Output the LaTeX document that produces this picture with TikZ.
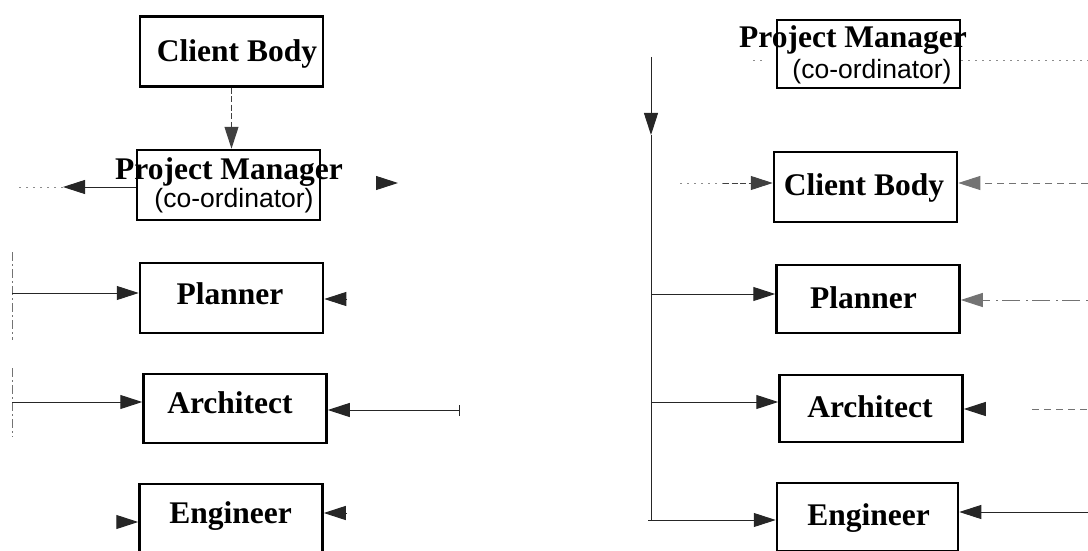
\documentclass[tikz,border=0pt]{standalone}
\usepackage{fontspec}
\setmainfont{Liberation Serif}
\newfontfamily\subfont{Liberation Sans}
\usetikzlibrary{arrows.meta}

\tikzset{
  box/.style={draw=black, line width=2.5pt, inner sep=0pt,
              minimum width=183pt, minimum height=70pt},
  title/.style={font=\fontsize{31.5}{36}\selectfont\bfseries, anchor=base, inner sep=0pt},
  subtitle/.style={font=\subfont\fontsize{26.5}{30}\selectfont, anchor=base, inner sep=0pt},
  tip/.tip={Triangle[length=22pt,width=14pt]},
  conn/.style={draw=black!85, line width=1pt},
  faint/.style={draw=black!55, line width=0.9pt, dash pattern=on 7pt off 5pt},
  dotline/.style={draw=black!45, line width=0.8pt, dash pattern=on 2pt off 5pt},
  dashline/.style={draw=black!75, line width=1pt, dash pattern=on 6pt off 2.5pt},
}

\begin{document}
\begin{tikzpicture}[x=1pt,y=-1pt]
\useasboundingbox (0,0) rectangle (1088,551);
\clip (0,0) rectangle (1088,551);

% ---------------- left-hand organisation ----------------
\node[box] (lcb) at (231.5,51.5) {};
\node[box] (lpm) at (228.5,185) {};
\node[box] (lpl) at (231.5,298) {};
\node[box, minimum height=69pt] (lar) at (235,408.5) {};
\node[box, minimum height=68pt] (len) at (231,518) {};

\node[title] (lcbT) at (237,62) {Client Body};
\node[title] (lpmT) at (229,179) {Project Manager};
\node[subtitle] (lpmS) at (234,207.5) {(co-ordinator)};
\node[title] (lplT) at (230,304) {Planner};
\node[title] (larT) at (230,413) {Architect};
\node[title] (lenT) at (230.5,523) {Engineer};

% client body down to the project manager
\draw[dashline,-{tip}] (lcb.south) -- (lcb.south |- lpm.north);

% project manager outwards to the left
\coordinate (lpmL) at (63,187);
\coordinate (lpmLL) at (15,187);
\draw[conn,-{tip}] (lpm.west |- lpmL) -- (lpmL);
\draw[dotline] (lpmL) -- (lpmLL);
% lone arrowhead to the right
\coordinate (lpmRa) at (376,183);
\coordinate (lpmRb) at (398,183);
\draw[conn,-{tip}] (lpmRa) -- (lpmRb);

% feed line on the far left
\coordinate (lbusA) at (12,252);
\coordinate (lbusB) at (12,340);
\coordinate (lbusC) at (12,368);
\coordinate (lbusD) at (12,437);
\draw[faint, dash pattern=on 9pt off 3pt on 2pt off 3pt] (lbusA) -- (lbusB);
\draw[faint, dash pattern=on 9pt off 3pt on 2pt off 3pt] (lbusC) -- (lbusD);
\coordinate (lbusP) at (12,293);
\coordinate (lbusR) at (12,402);
\draw[conn,-{tip}] (lbusP) -- (lbusP -| lpl.west);
\draw[conn,-{tip}] (lbusR) -- (lbusR -| lar.west);

% right-hand arrowheads
\coordinate (lplR) at (347,299);
\draw[conn,-{tip}] (lplR) -- (lplR -| lpl.east);
\coordinate (larR) at (459,410);
\draw[conn,-{tip}] (larR) -- (larR -| lar.east);
\draw[conn] ([yshift=-6pt]larR) -- ([yshift=5pt]larR);

% engineer arrowheads
\coordinate (lenL) at (117,522);
\draw[conn,-{tip}] (lenL) -- (lenL -| len.west);
\coordinate (lenR) at (346,513);
\draw[conn,-{tip}] (lenR) -- (lenR -| len.east);

% ---------------- right-hand organisation ----------------
\node[box, minimum height=68pt] (rpm) at (868.5,54) {};
\node[box] (rcb) at (865.5,187) {};
\node[box, minimum height=68pt] (rpl) at (868,299) {};
\node[box, minimum height=67pt] (rar) at (871,408.5) {};
\node[box, minimum width=181pt, minimum height=68pt] (ren) at (867.5,517) {};

\node[title] (rpmT) at (853,48) {Project Manager};
\node[subtitle] (rpmS) at (872,78) {(co-ordinator)};
\node[title] (rcbT) at (864,195) {Client Body};
\node[title] (rplT) at (863.5,308) {Planner};
\node[title] (rarT) at (870,417) {Architect};
\node[title] (renT) at (868.5,525) {Engineer};

% faint lines through the project manager
\coordinate (rpmLa) at (753,60);
\coordinate (rpmLb) at (765,60);
\coordinate (rpmR) at (1088,60);
\draw[dotline] (rpmLa) -- (rpmLb);
\draw[dotline] (rpm.east |- rpmR) -- (rpmR);

% vertical distribution line
\coordinate (rbusTop) at (651,57);
\coordinate (rbusMid) at (651,135);
\coordinate (rbusBot) at (651,520);
\draw[conn,-{tip}] (rbusTop) -- (rbusMid);
\draw[conn] (rbusMid) -- (rbusBot);
\coordinate (rbusP) at (651,294);
\coordinate (rbusR) at (651,402);
\coordinate (rbusE) at (648,520);
\draw[conn,-{tip}] (rbusP) -- (rbusP -| rpl.west);
\draw[conn,-{tip}] (rbusR) -- (rbusR -| rar.west);
\draw[conn,-{tip}] (rbusE) -- (rbusE -| ren.west);

% client body: in from both sides
\coordinate (rcbLa) at (680,183);
\coordinate (rcbLb) at (723,183);
\draw[dotline] (rcbLa) -- (rcbLb);
\draw[dashline,-{tip}] (rcbLb) -- (rcbLb -| rcb.west);
\coordinate (rcbR) at (1088,183);
\draw[faint,-{tip}] (rcbR) -- (rcbR -| rcb.east);

% inputs from the right
\coordinate (rplR) at (1088,300);
\draw[faint, dash pattern=on 2pt off 6pt on 18pt off 4pt,-{tip}] (rplR) -- (rplR -| rpl.east);
\coordinate (rarRa) at (984,409);
\coordinate (rarRb) at (1032,409);
\coordinate (rarRc) at (1088,409);
\draw[conn,-{tip}] (rarRa) -- (rarRa -| rar.east);
\draw[faint] (rarRb) -- (rarRc);
\coordinate (renR) at (1088,512);
\draw[conn,-{tip}] (renR) -- (renR -| ren.east);
\end{tikzpicture}
\end{document}
